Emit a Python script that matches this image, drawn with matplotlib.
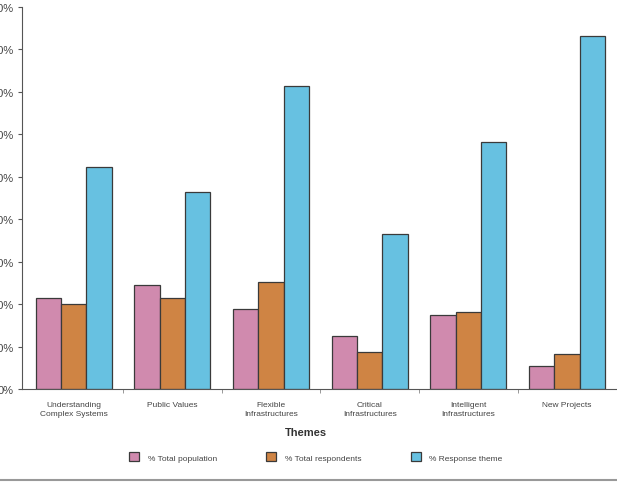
import matplotlib
matplotlib.use("Agg")
import matplotlib.pyplot as plt
import numpy as np
from matplotlib.lines import Line2D
from matplotlib.patches import Patch

plt.rcParams['font.family'] = ['Liberation Sans', 'DejaVu Sans']

themes = ["Understanding\nComplex Systems", "Public Values", "Flexible\nInfrastructures",
          "Critical\nInfrastructures", "Intelligent\nInfrastructures", "New Projects"]
total_population = [21.5, 24.5, 18.8, 12.6, 17.4, 5.4]
total_respondents = [20.1, 21.4, 25.3, 8.6, 18.2, 8.2]
response_theme = [52.3, 46.5, 71.5, 36.5, 58.1, 83.2]
series_names = ["% Total population", "% Total respondents", "% Response theme"]
colors = ["#D08AAE", "#CF8444", "#67C1E1"]
yticks = list(range(0, 100, 10))

fig = plt.figure(figsize=(6.17, 4.85), dpi=100)
ax = fig.add_axes([22/617, 95/485, 594.5/617, 382/485])

x = np.arange(len(themes))
w = 0.257
for i, (vals, c, name) in enumerate(zip([total_population, total_respondents, response_theme], colors, series_names)):
    ax.bar(x + (i - 1) * w, vals, width=w, color=c, edgecolor="#3a3a3a", linewidth=0.9, label=name)

ax.set_xlim(-0.523, len(themes) - 0.5)
ax.set_ylim(0, 90)
ax.set_yticks(yticks)
ax.set_yticklabels([f"{v}%" for v in yticks], fontsize=8, color="#444444")
ax.set_xticks(x)
ax.set_xticklabels(themes, fontsize=6.0, color="#444444", linespacing=1.3)
ax.set_xticks(np.arange(0.5, len(themes) - 0.5, 1), minor=True)
ax.tick_params(axis='x', which='major', length=0, pad=9)
ax.tick_params(axis='x', which='minor', length=3, color="#888888")
ax.tick_params(axis='y', length=3, color="#555555", pad=3)
for s in ["top", "right"]:
    ax.spines[s].set_visible(False)
ax.spines["left"].set_color("#555555")
ax.spines["bottom"].set_color("#555555")

fig.text(0.496, 1 - 433/485, "Themes", ha="center", va="center", fontsize=8, fontweight="bold", color="#333333")

handles = [Patch(facecolor=c, edgecolor="#3a3a3a", linewidth=0.9) for c in colors]
fig.legend(handles, series_names, loc="center", bbox_to_anchor=(0.512, 1 - 458/485), ncol=3,
           frameon=False, fontsize=6.0, handlelength=1.2, handleheight=1.2, handletextpad=1.05,
           columnspacing=5.9, labelcolor="#444444")

fig.add_artist(Line2D([0, 1], [1 - 481/485, 1 - 481/485], color="#999999", linewidth=1.5, transform=fig.transFigure))

fig.savefig("out.png", dpi=100)
